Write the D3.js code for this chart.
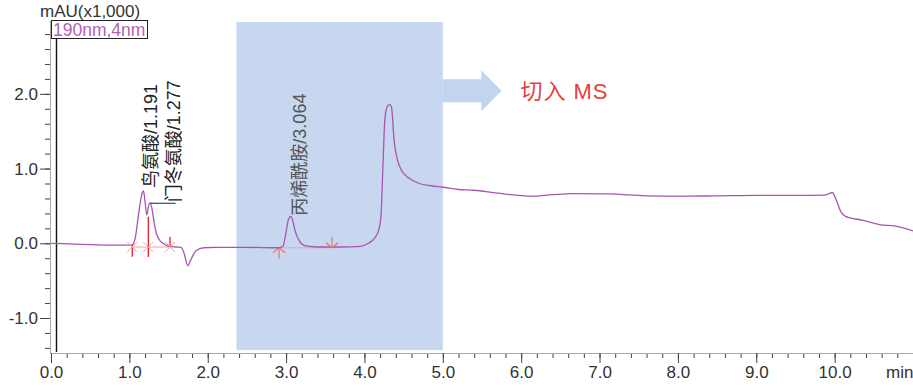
<!DOCTYPE html>
<html>
<head>
<meta charset="utf-8">
<script src="https://cdn.jsdelivr.net/npm/d3@7"></script>
<style>
  body { margin: 0; background: #fff; }
  svg text { font-family: "Liberation Sans", Arial, "Noto Sans CJK SC", sans-serif; }
  .cjk { font-family: "Liberation Sans", "Noto Sans CJK SC", sans-serif; }
</style>
</head>
<body>
<div id="chart"></div>
<script>
// chromatogram trace, [time (min), signal (mAU x1000)]
const trace = [
  [0.00, 0.00], [0.30, -0.01], [0.60, -0.02], [0.90, -0.025], [1.00, -0.025],
  [1.04, -0.02], [1.08, 0.10], [1.11, 0.33], [1.14, 0.55], [1.165, 0.68],
  [1.18, 0.70], [1.20, 0.56], [1.222, 0.38], [1.245, 0.50], [1.265, 0.54],
  [1.285, 0.48], [1.31, 0.32], [1.34, 0.15], [1.38, 0.05], [1.43, 0.0],
  [1.50, -0.04], [1.60, -0.05], [1.66, -0.055], [1.70, -0.14], [1.745, -0.30],
  [1.78, -0.23], [1.85, -0.10], [1.95, -0.06], [2.10, -0.055], [2.50, -0.055],
  [2.90, -0.06], [2.96, -0.04], [3.00, 0.15], [3.03, 0.32], [3.06, 0.36],
  [3.09, 0.28], [3.12, 0.15], [3.17, 0.03], [3.25, -0.035], [3.40, -0.05],
  [3.70, -0.05], [3.95, -0.04], [4.05, 0.00], [4.13, 0.07], [4.18, 0.17],
  [4.21, 0.35], [4.235, 1.00], [4.26, 1.65], [4.29, 1.83], [4.32, 1.86],
  [4.345, 1.82], [4.38, 1.36], [4.42, 1.12], [4.47, 0.98], [4.57, 0.87],
  [4.70, 0.80], [4.85, 0.77], [5.00, 0.75], [5.20, 0.72], [5.40, 0.71],
  [5.70, 0.67], [6.14, 0.63], [6.40, 0.65], [6.65, 0.665], [7.10, 0.66],
  [7.60, 0.635], [8.00, 0.63], [8.50, 0.635], [9.00, 0.64], [9.50, 0.64],
  [9.87, 0.645], [9.93, 0.665], [9.97, 0.68], [10.02, 0.58], [10.08, 0.42],
  [10.14, 0.36], [10.20, 0.34], [10.35, 0.31], [10.57, 0.25], [10.78, 0.23],
  [11.00, 0.165]
];

// peak labels: name, time, label foot value
const peakNames = ['鸟氨酸/1.191', '门冬氨酸/1.277', '丙烯酰胺/3.064'];
const peakTimes = [1.18, 1.265, 3.06];
const labelTimes = [1.18, 1.475, 3.08];
const labelValues = [0.74, 0.55, 0.37];

// integration marks (time, top, bottom)
const cutTimes = [1.037, 1.242, 1.519];
const cutTops = [-0.02, 0.356, 0.088];
const cutBottoms = [-0.18, -0.183, -0.045];
const baseA = [1.037, 1.519, -0.05];
const baseB = [2.91, 3.586, -0.06];

const xTicksMajor = d3.range(0, 10.01, 1);
const xTicksMinor = d3.range(0, 11.01, 0.2);
const yTicksMajor = [-1, 0, 1, 2];
const yTicksMinor = d3.range(-1.4, 2.81, 0.2);

const msWindow = [2.366, 5.0];
const injectTime = 0.07;

const W = 913, H = 386;
const margin = {t:21, r:0, b:34, l:51};

const x = d3.scaleLinear().domain([0, 11]).range([margin.l, W - margin.r]);
const y = d3.scaleLinear().domain([-1.455, 2.975]).range([H - margin.b, margin.t]);

const svg = d3.select('#chart').append('svg')
  .attr('width', W).attr('height', H);

svg.append('defs').append('clipPath').attr('id', 'plotclip')
  .append('rect')
  .attr('x', margin.l - 1).attr('y', margin.t)
  .attr('width', W - margin.l + 1).attr('height', H - margin.b - margin.t);

// MS switching window
svg.append('rect')
  .attr('x', x(msWindow[0])).attr('y', y(2.975) + 1)
  .attr('width', x(msWindow[1]) - x(msWindow[0]))
  .attr('height', y(-1.43) - y(2.975) - 1)
  .style('fill', '#c6d7ef');

// arrow to MS
const ay = y(2.04);
const ax0 = x(msWindow[1]), ax1 = x(5.49), ax2 = x(5.75);
svg.append('path')
  .attr('d', `M${ax0},${ay - 11.5}L${ax1},${ay - 11.5}L${ax1},${ay - 20.5}L${ax2},${ay}` +
             `L${ax1},${ay + 20.5}L${ax1},${ay + 11.5}L${ax0},${ay + 11.5}Z`)
  .style('fill', '#c2d5ee');

svg.append('text').attr('class', 'cjk')
  .attr('x', x(5.99)).attr('y', ay + 8)
  .style('font-size', '22px').style('letter-spacing', '1px').style('fill', '#e8403a')
  .text('切入 MS');

// axes
const axXMinor = d3.axisBottom(x).tickValues(xTicksMinor).tickSize(5).tickFormat('');
const axXMajor = d3.axisBottom(x).tickValues(xTicksMajor).tickSize(10).tickPadding(3)
  .tickFormat(d => d.toFixed(1));
const gxm = svg.append('g').attr('transform', `translate(0,${y.range()[0] + 1})`).call(axXMinor);
const gx = svg.append('g').attr('transform', `translate(0,${y.range()[0] + 1})`).call(axXMajor);
gxm.select('.domain').remove();
gx.select('.domain').attr('d', `M${margin.l - 1},0.5H${W}`).style('stroke', '#aaa');

const axYMinor = d3.axisLeft(y).tickValues(yTicksMinor).tickSize(5).tickFormat('');
const axYMajor = d3.axisLeft(y).tickValues(yTicksMajor).tickSize(10).tickPadding(2)
  .tickFormat(d => d.toFixed(1));
const gym = svg.append('g').attr('transform', `translate(${margin.l - 1},0)`).call(axYMinor);
const gy = svg.append('g').attr('transform', `translate(${margin.l - 1},0)`).call(axYMajor);
gym.select('.domain').remove();
gy.select('.domain').attr('d', `M0.5,${margin.t}V${y.range()[0] + 1}`).style('stroke', '#aaa');

svg.selectAll('.tick line').style('stroke', '#444');
svg.selectAll('.tick text').style('font-size', '17px').style('fill', '#333')
  .style('font-family', '"Liberation Sans", Arial, sans-serif');

svg.append('text').attr('x', x(11) - 27).attr('y', y.range()[0] + 26)
  .style('font-size', '17px').style('fill', '#333').text('min');

svg.append('text').attr('x', 40).attr('y', 16.5)
  .style('font-size', '17px').style('fill', '#333').text('mAU(x1,000)');

// injection marker
svg.append('line')
  .attr('x1', x(injectTime)).attr('x2', x(injectTime))
  .attr('y1', margin.t + 1).attr('y2', y.range()[0])
  .style('stroke', '#111').style('stroke-width', 1.4);

// integration baselines
[baseA, baseB].forEach(b => {
  svg.append('line')
    .attr('x1', x(b[0])).attr('x2', x(b[1]))
    .attr('y1', y(b[2])).attr('y2', y(b[2]))
    .style('stroke', '#f4a0a0').style('stroke-width', 1.2);
});

// trace
const line = d3.line().x(d => x(d[0])).y(d => y(d[1])).curve(d3.curveMonotoneX);
svg.append('path')
  .datum(trace)
  .attr('clip-path', 'url(#plotclip)')
  .attr('d', line)
  .style('fill', 'none')
  .style('stroke', '#a855b0')
  .style('stroke-width', 1.3);

// peak cut marks and stars
cutTimes.forEach((t, i) => {
  svg.append('line')
    .attr('x1', x(t)).attr('x2', x(t))
    .attr('y1', y(cutTops[i])).attr('y2', y(cutBottoms[i]))
    .style('stroke', '#e8202a').style('stroke-width', 1.3);
  const cx = x(t), cy = y(baseA[2]);
  svg.append('path')
    .attr('d', `M${cx - 5},${cy - 5}L${cx + 5},${cy + 5}M${cx - 5},${cy + 5}L${cx + 5},${cy - 5}`)
    .style('stroke', '#f4a0a0').style('stroke-width', 1);
});

// arrow-style cut marks for acrylamide
{
  const sx = x(baseB[0]), ex = x(baseB[1]), by = y(baseB[2]);
  svg.append('path')
    .attr('d', `M${sx},${by}V${by + 11}M${sx - 6},${by + 5}L${sx},${by}L${sx + 6},${by + 5}`)
    .style('fill', 'none').style('stroke', '#e87070').style('stroke-width', 1.1);
  svg.append('path')
    .attr('d', `M${ex},${by}V${by - 11}M${ex - 6},${by - 5}L${ex},${by}L${ex + 6},${by - 5}`)
    .style('fill', 'none').style('stroke', '#e87070').style('stroke-width', 1.1);
}

// leader for second label
svg.append('line')
  .attr('x1', x(peakTimes[1])).attr('x2', x(labelTimes[1]) + 9)
  .attr('y1', y(0.535)).attr('y2', y(0.535))
  .style('stroke', '#2c4a8c').style('stroke-width', 1.2);

// legend box
svg.append('rect')
  .attr('x', margin.l + 0.5).attr('y', margin.t - 0.5)
  .attr('width', 96).attr('height', 18)
  .style('fill', '#fff').style('stroke', '#222').style('stroke-width', 1);
svg.append('text').attr('x', margin.l + 2).attr('y', margin.t + 14.5)
  .style('font-size', '17.5px').style('fill', '#b35fb3').text('190nm,4nm');

// peak labels
peakNames.forEach((name, i) => {
  svg.append('text').attr('class', 'cjk')
    .attr('transform', `translate(${x(labelTimes[i]) + 1},${y(labelValues[i])}) rotate(-90)`)
    .attr('dominant-baseline', 'hanging')
    .style('font-size', '18px')
    .style('fill', i === 2 ? '#555' : '#222')
    .text(name);
});
</script>
</body>
</html>
